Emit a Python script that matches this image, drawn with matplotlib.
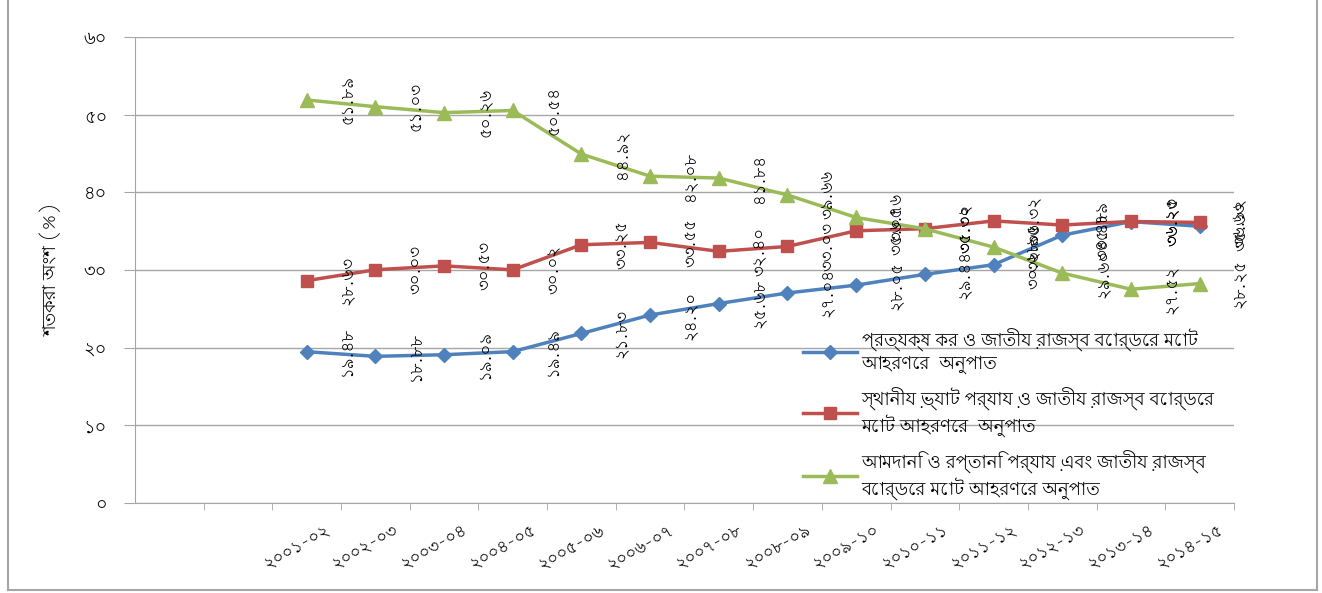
import numpy as np
import matplotlib.pyplot as plt
from matplotlib import font_manager
from matplotlib.lines import Line2D
from fontTools.ttLib import TTFont

# look for any installed font that has Bengali glyphs (skip monospaced ones)
bn_fonts = []
for f in font_manager.fontManager.ttflist:
    try:
        cmap = TTFont(f.fname, fontNumber=0, lazy=True).getBestCmap()
    except Exception:
        continue
    if cmap and 0x09A6 in cmap and f.name not in bn_fonts:
        bn_fonts.append(f.name)
bn_fonts.sort(key=lambda n: ('Mono' in n, 'Bengali' not in n and 'Lohit' not in n, 'Serif' in n))
plt.rcParams['font.family'] = bn_fonts[:1] + ['DejaVu Sans']

# data
years = ['২০০১-০২', '২০০২-০৩', '২০০৩-০৪', '২০০৪-০৫', '২০০৫-০৬', '২০০৬-০৭', '২০০৭-০৮',
         '২০০৮-০৯', '২০০৯-১০', '২০১০-১১', '২০১১-১২', '২০১২-১৩', '২০১৩-১৪', '২০১৪-১৫']
direct_tax = [19.48, 18.88, 19.09, 19.49, 21.83, 24.20, 25.68, 27.04, 28.05, 29.44, 30.68, 34.48, 36.23, 35.63]
local_vat = [28.63, 30.03, 30.53, 30.02, 33.25, 33.55, 32.40, 33.03, 35.05, 35.32, 36.32, 35.79, 36.25, 36.12]
import_export = [51.89, 51.03, 50.26, 50.54, 44.92, 42.08, 41.84, 39.66, 36.76, 35.30, 32.95, 29.60, 27.52, 28.25]

labels = ['প্রত্যক্ষ কর ও জাতীয় রাজস্ব বোর্ডের মোট\nআহরণের  অনুপাত',
          'স্থানীয় ভ্যাট পর্যায় ও জাতীয় রাজস্ব বোর্ডের\nমোট আহরণের  অনুপাত',
          'আমদানি ও রপ্তানি পর্যায় এবং জাতীয় রাজস্ব\nবোর্ডের মোট আহরণের অনুপাত']

bn = str.maketrans('0123456789', '০১২৩৪৫৬৭৮৯')

fig = plt.figure(figsize=(13.22, 5.93), dpi=100)
ax = fig.add_axes([0.1021, 0.1518, 0.8313, 0.7858])

# two empty slots before the first year, as in the original sheet
x = np.arange(len(years)) + 2.5

series = [(direct_tax, '#4F81BD', 'D', 7), (local_vat, '#C0504D', 's', 9), (import_export, '#9BBB59', '^', 10)]
for (vals, col, mk, ms), lab in zip(series, labels):
    ax.plot(x, vals, color=col, lw=2.5, marker=mk, ms=ms, label=lab)
    for xi, v in zip(x, vals):
        ax.annotate(f'{v:.2f}'.translate(bn), (xi, v), xytext=(29, 0), textcoords='offset points',
                    rotation=90, ha='center', va='center', fontsize=12)

ax.set_xlim(0, 16)
ax.set_ylim(0, 60)
ax.set_yticks(range(0, 61, 10))
ax.set_yticklabels([str(v).translate(bn) for v in range(0, 61, 10)], fontsize=13)
ax.yaxis.grid(True, color='#a6a6a6', lw=1)
ax.set_axisbelow(True)

ax.set_xticks(range(1, 17), minor=True)
ax.set_xticks(x + 0.25)
ax.set_xticklabels(years, rotation=30, ha='right', va='top', rotation_mode='anchor', fontsize=12)
ax.tick_params(axis='x', which='major', length=0, pad=13)
ax.tick_params(axis='x', which='minor', length=5, color='#a6a6a6')
ax.tick_params(axis='y', length=8, color='#a6a6a6', pad=12)

for s in ['top', 'right']:
    ax.spines[s].set_visible(False)
for s in ['left', 'bottom']:
    ax.spines[s].set_color('#a6a6a6')

ax.set_ylabel('শতকরা অংশ (%)', fontsize=13, fontweight='bold', labelpad=16)

ax.legend(loc='upper left', bbox_to_anchor=(0.593, 0.41), frameon=False, fontsize=13,
          handlelength=3.0, labelspacing=0.75, handletextpad=0.25)

# outer chart border
for xs in [8 / 1322, 1317 / 1322]:
    fig.add_artist(Line2D([xs, xs], [0.005, 1], color='#a6a6a6', lw=1.5))
fig.add_artist(Line2D([8 / 1322, 1317 / 1322], [0.005, 0.005], color='#a6a6a6', lw=1.5))

fig.savefig('out.png')
